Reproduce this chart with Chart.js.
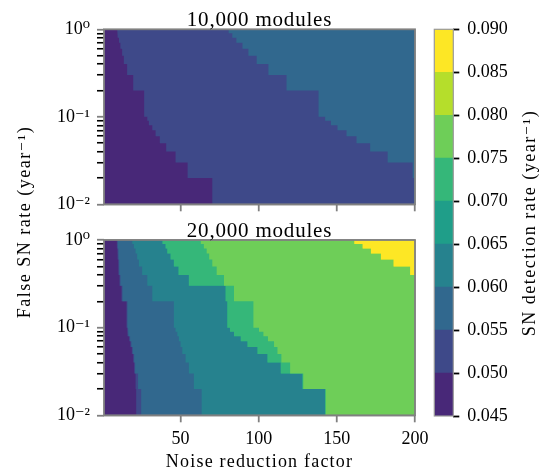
<!DOCTYPE html>
<html>
<head>
<meta charset="utf-8">
<script src="https://cdn.jsdelivr.net/npm/chart.js"></script>
<style>
  body { margin: 0; background: #fff; }
  #fig { position: relative; width: 546px; height: 473px; overflow: hidden;
         font-family: 'Liberation Serif', 'DejaVu Serif', serif; color: #000; }
  #fig canvas { position: absolute; left: 0; top: 0; }
  .lbl { position: absolute; white-space: nowrap; text-align: center; }
  .rot { transform: rotate(-90deg); }
</style>
</head>
<body>
<div id="fig">
  <canvas id="topPanel" width="546" height="473"></canvas>
  <canvas id="bottomPanel" width="546" height="473"></canvas>
  <canvas id="cbar" width="546" height="473"></canvas>
  <div class="lbl" style="left:104px; top:9px; width:311px; font-size:21px; line-height:21px; letter-spacing:0.8px">10,000 modules</div>
  <div class="lbl" style="left:104px; top:220px; width:311px; font-size:21px; line-height:21px; letter-spacing:0.8px">20,000 modules</div>
  <div class="lbl" style="left:104px; top:452px; width:311px; font-size:18px; line-height:18px; letter-spacing:1.2px">Noise reduction factor</div>
  <div class="lbl rot" style="left:-126px; top:212.5px; width:300px; font-size:18px; line-height:18px; letter-spacing:1.5px">False SN rate (year⁻¹)</div>
  <div class="lbl rot" style="left:379.3px; top:214px; width:300px; font-size:18px; line-height:18px; letter-spacing:1.5px">SN detection rate (year⁻¹)</div>
</div>
<script>
// false SN rate grid, row edges from top to bottom
const rateEdges = [1, 0.9, 0.8, 0.7, 0.6, 0.5, 0.4, 0.3, 0.2, 0.1, 0.09, 0.08, 0.07, 0.06, 0.05, 0.04, 0.03, 0.02, 0.01];

// noise reduction factor at which each rate row reaches a detection level (rows top to bottom)
const top050 = [9.4, 9.9, 10.6, 11.5, 12.6, 13.7, 15.8, 19.7, 26.7, 28.7, 29.7, 31.9, 34.0, 36.7, 40.8, 46.8, 54.5, 70.3];
const top055 = [80.6, 83.1, 85.7, 89.6, 93.4, 98.7, 106.2, 117.8, 138.3, 142.5, 146.2, 150.4, 156.2, 162.6, 171.3, 182.5, 198.5, 199.3];

const bot050 = [9.0, 9.3, 9.6, 9.8, 10.1, 10.3, 10.9, 12.2, 15.4, 15.8, 16.2, 17.1, 17.9, 18.8, 19.7, 20.3, 21.2, 21.6];
const bot055 = [9.6, 9.9, 10.2, 10.4, 10.7, 10.9, 11.5, 12.8, 16.0, 16.4, 16.8, 17.7, 18.5, 19.4, 20.3, 20.9, 22.8, 24.8];
const bot060 = [19.0, 20.1, 21.2, 22.2, 23.3, 25.4, 28.7, 31.9, 45.7, 46.8, 47.9, 48.9, 50.0, 51.1, 53.2, 55.3, 58.5, 63.5];
const bot065 = [38.3, 40.4, 41.5, 43.6, 45.7, 48.7, 55.3, 78.8, 79.9, 81.6, 84.2, 88.5, 92.8, 99.2, 105.6, 114.1, 128.0, 142.5];
const bot070 = [38.3, 40.4, 41.5, 43.6, 45.7, 48.7, 55.3, 78.8, 79.9, 81.6, 84.2, 88.5, 92.8, 99.2, 105.6, 114.1, 128.0, 142.5];
const bot075 = [62.8, 64.9, 66.7, 68.3, 70.3, 73.1, 77.8, 84.2, 96.6, 100.2, 103.0, 105.9, 109.8, 112.0, 114.5, 120.1, 128.5, 142.9];
const bot080 = [161.1, 166.5, 171.8, 178.2, 186.3, 196.9, 200, 200, 200, 200, 200, 200, 200, 200, 200, 200, 200, 200];
const bot085 = [161.1, 166.5, 171.8, 178.2, 186.3, 196.9, 200, 200, 200, 200, 200, 200, 200, 200, 200, 200, 200, 200];

const levels = [0.045, 0.050, 0.055, 0.060, 0.065, 0.070, 0.075, 0.080, 0.085, 0.090];
const bandColors = ['#482878', '#3e4989', '#31688e', '#26828e', '#1f9e89', '#35b779', '#6ece58', '#b5de2b', '#fde725'];

const xMin = 1, xMax = 200;
const xTicks = [50, 100, 150, 200];
const yTicks = [0.01, 0.02, 0.03, 0.04, 0.05, 0.06, 0.07, 0.08, 0.09, 0.1, 0.2, 0.3, 0.4, 0.5, 0.6, 0.7, 0.8, 0.9, 1];
const yTickLabels = ['10⁻²', '', '', '', '', '', '', '', '', '10⁻¹', '', '', '', '', '', '', '', '', '10⁰'];

Chart.defaults.font.family = "'Liberation Serif', 'DejaVu Serif', serif";
Chart.defaults.font.size = 18;
Chart.defaults.color = '#000';

const W = 546, H = 473;
const spine = '#808080';
const gridColor = 'rgba(110,110,110,0.55)';

// frame round the plot area, plus the lowest band as background
const framePlugin = {
  id: 'frame',
  beforeDatasetsDraw(chart, args, opts) {
    if (!opts.base) return;
    const a = chart.chartArea, ctx = chart.ctx;
    ctx.save();
    ctx.fillStyle = opts.base;
    ctx.fillRect(a.left, a.top, a.right - a.left, a.bottom - a.top);
    ctx.restore();
  },
  afterDraw(chart, args, opts) {
    const a = chart.chartArea, ctx = chart.ctx;
    ctx.save();
    ctx.strokeStyle = opts.color;
    ctx.lineWidth = opts.width;
    ctx.strokeRect(a.left, a.top, a.right - a.left, a.bottom - a.top);
    ctx.restore();
  }
};

function stairs(xs) {
  const pts = [];
  xs.forEach((x, i) => {
    pts.push({x: x, y: rateEdges[i]}, {x: x, y: rateEdges[i + 1]});
  });
  pts.push({x: xMax, y: rateEdges[rateEdges.length - 1]});
  return pts;
}

function panel(id, bounds, box, showX) {
  return new Chart(document.getElementById(id), {
    type: 'line',
    data: {
      datasets: bounds.map(b => ({
        data: stairs(b.xs),
        backgroundColor: bandColors[b.band],
        borderColor: bandColors[b.band],
        borderWidth: 0,
        pointRadius: 0,
        tension: 0,
        fill: 'end',
        order: -b.band
      }))
    },
    options: {
      responsive: false,
      animation: false,
      events: [],
      layout: {padding: {left: 0, top: box.top, right: W - box.right, bottom: 0}},
      plugins: {
        legend: {display: false},
        tooltip: {enabled: false},
        frame: {base: bandColors[0], color: spine, width: 1.8}
      },
      scales: {
        x: {
          type: 'linear', min: xMin, max: xMax, z: 1,
          afterFit: s => { s.height = H - box.bottom; },
          afterBuildTicks: s => { s.ticks = xTicks.map(v => ({value: v})); },
          ticks: {display: showX, padding: 6, maxRotation: 0},
          grid: {color: gridColor, lineWidth: 1.5, tickLength: 7, tickColor: spine, tickWidth: 1.8},
          border: {display: false}
        },
        y: {
          type: 'logarithmic', min: 0.01, max: 1, z: 1,
          afterFit: s => { s.width = box.left; },
          afterBuildTicks: s => { s.ticks = yTicks.map(v => ({value: v})); },
          ticks: {autoSkip: false, padding: 7, callback: (v, i) => yTickLabels[i]},
          grid: {
            color: c => yTickLabels[c.index] ? gridColor : 'rgba(0,0,0,0)',
            lineWidth: 1.5,
            tickLength: 7,
            tickColor: c => yTickLabels[c.index] ? spine : '#000',
            tickWidth: c => yTickLabels[c.index] ? 1.8 : 1.6
          },
          border: {display: false}
        }
      }
    },
    plugins: [framePlugin]
  });
}

panel('topPanel', [
  {band: 1, xs: top050},
  {band: 2, xs: top055}
], {left: 104, right: 415, top: 29.3, bottom: 204.3}, false);

panel('bottomPanel', [
  {band: 1, xs: bot050},
  {band: 2, xs: bot055},
  {band: 3, xs: bot060},
  {band: 4, xs: bot065},
  {band: 5, xs: bot070},
  {band: 6, xs: bot075},
  {band: 7, xs: bot080},
  {band: 8, xs: bot085}
], {left: 104, right: 415, top: 240, bottom: 415.3}, true);

// colour bar
const cb = {left: 434.3, right: 453.3, top: 29.3, bottom: 416};
new Chart(document.getElementById('cbar'), {
  type: 'bar',
  data: {
    labels: [''],
    datasets: bandColors.map((c, i) => ({
      data: [[levels[i], levels[i + 1]]],
      backgroundColor: c,
      borderWidth: 0,
      barPercentage: 1,
      categoryPercentage: 1,
      grouped: false
    }))
  },
  options: {
    responsive: false,
    animation: false,
    events: [],
    layout: {padding: {left: cb.left, top: cb.top, right: 0, bottom: H - cb.bottom}},
    plugins: {
      legend: {display: false},
      tooltip: {enabled: false},
      frame: {color: '#9a9a9a', width: 1.2}
    },
    scales: {
      x: {display: false},
      y: {
        position: 'right', min: levels[0], max: levels[levels.length - 1], z: 1,
        afterFit: s => { s.width = W - cb.right; },
        afterBuildTicks: s => { s.ticks = levels.map(v => ({value: v})); },
        ticks: {padding: 8, callback: v => Number(v).toFixed(3)},
        grid: {drawOnChartArea: false, tickLength: 6, tickColor: '#000', tickWidth: 1.8},
        border: {display: false}
      }
    }
  },
  plugins: [framePlugin]
});
</script>
</body>
</html>
